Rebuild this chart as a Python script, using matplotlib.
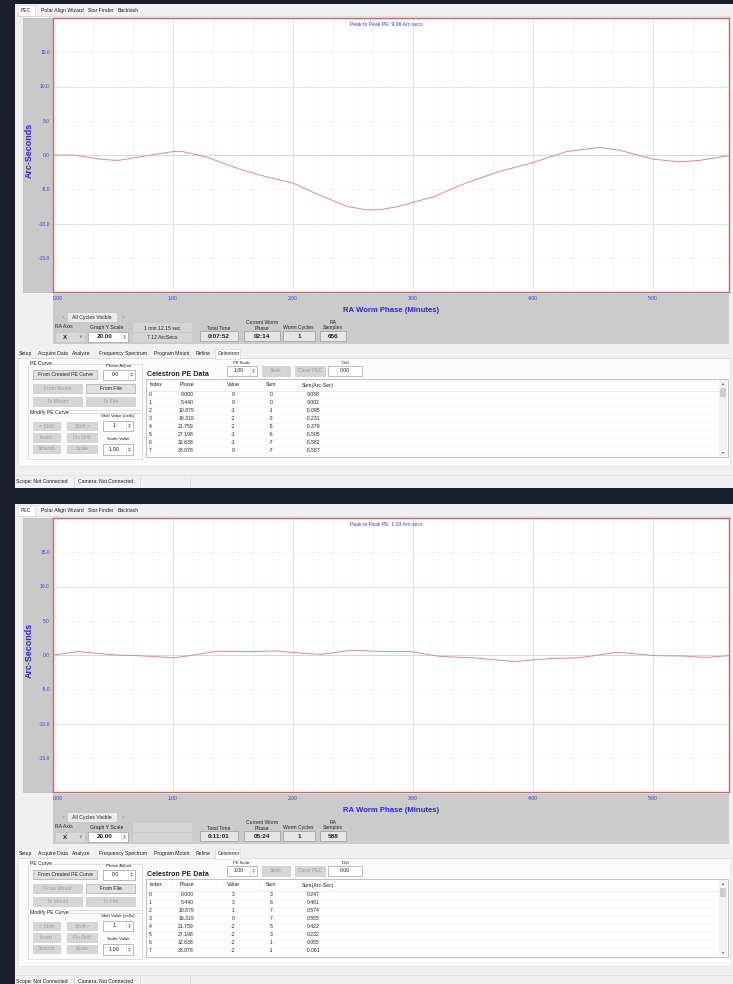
import numpy as np
import matplotlib
matplotlib.use('Agg')
import matplotlib.pyplot as plt
from matplotlib.patches import Rectangle, Polygon

plt.rcParams['font.family'] = ['Liberation Sans Narrow', 'Liberation Sans', 'DejaVu Sans']

# ---------------- data ----------------
minutes_top = [0, 0.17, 0.39, 0.54, 0.75, 1.0, 1.08, 1.28, 1.56, 1.78, 2.0, 2.2, 2.45, 2.61,
               2.72, 2.88, 3.17, 3.44, 3.72, 4.0, 4.28, 4.55, 4.72, 5.0, 5.22, 5.38, 5.63]
arcsec_top = [0.0, 0.0, -0.6, -0.8, -0.2, 0.5, 0.5, -0.3, -2.1, -3.2, -4.1, -5.7, -7.5, -8.0,
              -8.0, -7.5, -6.1, -4.1, -2.4, -1.1, 0.5, 1.1, 0.7, -0.6, -1.0, -0.8, -0.1]

minutes_bot = [0, 0.21, 0.52, 0.71, 1.01, 1.18, 1.36, 1.69, 1.85, 2.12, 2.24, 2.49, 2.75, 2.98,
               3.22, 3.53, 3.84, 4.16, 4.39, 4.70, 5.02, 5.25, 5.44, 5.63]
arcsec_bot = [0.0, 0.5, 0.0, -0.1, -0.4, 0.0, 0.55, 0.5, 0.6, 0.2, 0.1, 0.7, 0.5, 0.5,
              -0.2, -0.45, -0.95, -0.5, -0.4, 0.4, -0.1, -0.15, -0.35, -0.1]

minute_ticks = [0, 1, 2, 3, 4, 5]
minute_labels = ['0:00', '1:00', '2:00', '3:00', '4:00', '5:00']
arcsec_ticks = [15, 10, 5, 0, -5, -10, -15]
arcsec_labels = ['15.0', '10.0', '5.0', '0.0', '-5.0', '-10.0', '-15.0']

pp_text = ['Peak to Peak PE: 9.06 Arc-secs', 'Peak to Peak PE: 1.03 Arc-secs']
period_text = [('1 min 12.15 sec', '7.12 ArcSecs'), ('', '')]
total_time = ['0:07:52', '0:11:01']
worm_phase = ['02:14', '05:24']
worm_cycles = ['1', '1']
ra_samples = ['656', '588']

table_index = [0, 1, 2, 3, 4, 5, 6, 7]
table_phase = ['0.000', '5.440', '10.879', '16.319', '21.759', '27.198', '32.638', '38.078']
values_top = [0, 0, -1, -2, -2, -1, -1, 0]
sums_top = [0, 0, -1, -3, -5, -6, -7, -7]
arcsum_top = ['0.038', '0.002', '-0.095', '-0.231', '-0.379', '-0.505', '-0.582', '-0.587']
values_bot = [3, 3, 1, 0, -2, -2, -2, -2]
sums_bot = [3, 6, 7, 7, 5, 3, 1, -1]
arcsum_bot = ['0.247', '0.461', '0.574', '0.555', '0.422', '0.232', '0.055', '-0.061']

# ---------------- figure ----------------
W, H = 733, 984
fig = plt.figure(figsize=(W / 100, H / 100), dpi=100)
fig.patch.set_facecolor('#1b1f29')
bg = fig.add_axes([0, 0, 1, 1], zorder=0)
bg.set_xlim(0, W)
bg.set_ylim(H, 0)
bg.axis('off')

BLUE = '#2b2bd0'
TXT = '#222222'
DIS = '#9c9c9c'
FS = 3.7


def R(x0, y0, x1, y1, fc='none', ec='none', lw=0.5, z=1):
    bg.add_patch(Rectangle((x0, y0), x1 - x0, y1 - y0, facecolor=fc, edgecolor=ec,
                           linewidth=lw, zorder=z))


def T(x, y, s, size=FS, color=TXT, ha='left', va='center', weight='normal', **kw):
    bg.text(x, y, s, fontsize=size, color=color, ha=ha, va=va, fontweight=weight,
            zorder=6, **kw)


def L(xs, ys, color='#c8c8c8', lw=0.5, z=2):
    bg.plot(xs, ys, color=color, lw=lw, zorder=z, solid_capstyle='butt')


def button(x0, y0, x1, y1, label, enabled=True):
    R(x0, y0, x1, y1, fc='#e1e1e1' if enabled else '#d6d6d6',
      ec='#a9a9a9' if enabled else '#cbcbcb', lw=0.5, z=3)
    T((x0 + x1) / 2, (y0 + y1) / 2, label, ha='center', color=TXT if enabled else DIS)


def arrows(cx, cy, color='#606060', s=1.4):
    bg.add_patch(Polygon([[cx - s, cy - 0.6], [cx + s, cy - 0.6], [cx, cy - 0.6 - s]],
                         closed=True, fc=color, ec='none', zorder=5))
    bg.add_patch(Polygon([[cx - s, cy + 0.6], [cx + s, cy + 0.6], [cx, cy + 0.6 + s]],
                         closed=True, fc=color, ec='none', zorder=5))


def spin(x0, y0, x1, y1, value, bold=False, size=FS):
    R(x0, y0, x1, y1, fc='white', ec='#9f9f9f', lw=0.5, z=3)
    sx = x1 - 7
    L([sx, sx], [y0, y1], color='#cfcfcf', lw=0.4, z=4)
    T((x0 + sx) / 2, (y0 + y1) / 2, value, ha='center', weight='bold' if bold else 'normal',
      size=size)
    arrows((sx + x1) / 2, (y0 + y1) / 2)


def panel(k, oy, xs, ys, values, sums, arcsum):
    # window
    R(15, oy + 4, W + 2, oy + 488, fc='#f0f0f0', z=0.5)
    # top tab strip
    R(18, oy + 5, 35, oy + 16, fc='white', ec='#d0d0d0', lw=0.4, z=1)
    L([17, 731], [oy + 16, oy + 16], color='#d6d6d6', lw=0.4)
    T(21, oy + 10.5, 'PEC')
    T(41, oy + 10.5, 'Polar Align Wizard')
    T(88, oy + 10.5, 'Star Finder')
    T(118, oy + 10.5, 'Backlash')
    # gray column and band
    R(23, oy + 18, 53, oy + 292, fc='#c9c9c9', ec='#b0b0b0', lw=0.4, z=1)
    R(53, oy + 294, 729, oy + 344, fc='#cbcbcb', z=1)
    bg.text(29, oy + 150, 'Arc-Seconds', rotation=90, fontsize=6.4, color=BLUE,
            fontweight='bold', ha='center', va='center', zorder=6)
    T(391, oy + 311, 'RA Worm Phase (Minutes)', size=5.6, color=BLUE, weight='bold',
      ha='center')

    # plot axes
    ax = fig.add_axes([53 / W, 1 - (oy + 292) / H, 676 / W, 274 / H], zorder=2)
    ax.set_facecolor('white')
    ax.set_xlim(0, 5.633)
    ax.set_ylim(-20, 20)
    ax.set_xticks(minute_ticks)
    ax.set_xticklabels(minute_labels)
    ax.set_xticks(np.arange(0, 5.633, 1 / 6), minor=True)
    ax.set_yticks(arcsec_ticks)
    ax.set_yticklabels(arcsec_labels)
    ax.tick_params(which='both', length=0, labelsize=3.6, labelcolor='#3a3ad8')
    ax.tick_params(axis='y', pad=2.2)
    ax.tick_params(axis='x', pad=3.0)
    ax.get_xticklabels()[0].set_ha('left')
    ax.grid(which='minor', axis='x', color='#f3f3f3', lw=0.6)
    ax.grid(which='major', axis='x', color='#e0e0e0', lw=0.6)
    for v in (15, 5, -5, -15):
        ax.axhline(v, color='#f4f4f4', lw=0.6, zorder=0.5)
    for v in (10, -10):
        ax.axhline(v, color='#d6eeda', lw=0.7, zorder=0.6)
    ax.axhline(0, color='#d0dcd0', lw=0.7, zorder=0.6)
    ax.set_axisbelow(True)
    ax.plot(xs, ys, color='#d88c90', lw=0.7, zorder=3)
    for s in ax.spines.values():
        s.set_color('#c46a6a')
        s.set_linewidth(1.0)
    ax.text(350, oy + 24, pp_text[k], transform=bg.transData, fontsize=3.7, color='#3a3ad8',
            ha='left', va='center', zorder=6)

    # controls in band
    T(62, oy + 317, '<', color='#8a8a8a')
    R(67, oy + 312, 117, oy + 322, fc='#ececec', ec='#b8b8b8', lw=0.4, z=2)
    T(92, oy + 317, 'All Cycles Visible', ha='center')
    T(122, oy + 317, '>', color='#8a8a8a')
    T(55, oy + 327, 'RA Axis')
    T(90, oy + 327, 'Graph Y Scale')
    R(55, oy + 332, 85, oy + 342, fc='#d9d9d9', ec='#c2c2c2', lw=0.4, z=2)
    T(63, oy + 337.5, 'X', size=4.5, weight='bold')
    T(78, oy + 337, '\u2228', size=3.6, color='#606060')
    spin(88, oy + 332, 128, oy + 342, '20.00', bold=True, size=4.6)
    R(133, oy + 323, 192, oy + 332, fc='#d6d6d6', z=2)
    R(133, oy + 333, 192, oy + 342, fc='#d6d6d6', z=2)
    T(162, oy + 328, period_text[k][0], ha='center')
    T(162, oy + 337.5, period_text[k][1], ha='center')
    # info boxes
    T(219, oy + 328, 'Total Time', ha='center')
    R(200, oy + 331, 238, oy + 341, fc='#e6e6e6', ec='#9a9a9a', lw=0.5, z=2)
    T(219, oy + 336, total_time[k], ha='center', weight='bold', size=4.6)
    T(262, oy + 322, 'Current Worm', ha='center')
    T(262, oy + 328, 'Phase', ha='center')
    R(244, oy + 331, 280, oy + 341, fc='#e6e6e6', ec='#9a9a9a', lw=0.5, z=2)
    T(262, oy + 336, worm_phase[k], ha='center', weight='bold', size=4.6)
    T(298, oy + 328, 'Worm Cycles', ha='center')
    R(283, oy + 331, 315, oy + 341, fc='#e6e6e6', ec='#9a9a9a', lw=0.5, z=2)
    T(299, oy + 336, worm_cycles[k], ha='center', weight='bold', size=4.6)
    T(333, oy + 322, 'RA', ha='center')
    T(333, oy + 328, 'Samples', ha='center')
    R(320, oy + 331, 346, oy + 341, fc='#e6e6e6', ec='#9a9a9a', lw=0.5, z=2)
    T(333, oy + 336, ra_samples[k], ha='center', weight='bold', size=4.6)

    # lower tab row
    L([17, 731], [oy + 358, oy + 358], color='#d6d6d6', lw=0.4)
    R(215, oy + 349, 240, oy + 358.5, fc='white', ec='#d0d0d0', lw=0.4, z=2)
    for xx, name in [(19, 'Setup'), (38, 'Acquire Data'), (72, 'Analyze'),
                     (99, 'Frequency Spectrum'), (154, 'Program Mount'),
                     (196, 'Refine'), (218, 'Celestron')]:
        T(xx, oy + 353.5, name)
    R(18, oy + 358, 730, oy + 466, fc='#fbfbfb', ec='#dedede', lw=0.4, z=1)

    # PE Curve group
    R(28, oy + 364, 142, oy + 410, ec='#d2d2d2', lw=0.5, z=2)
    R(29, oy + 361, 52, oy + 366, fc='#fbfbfb', z=2.5)
    T(30, oy + 363.5, 'PE Curve')
    T(119, oy + 366, 'Phase Adjust', ha='center', size=3.2)
    button(33, oy + 370, 97, oy + 379, 'From Created PE Curve')
    spin(103, oy + 369.5, 135, oy + 379.5, '0.0')
    button(33, oy + 384, 82, oy + 393, 'From Mount', False)
    button(86, oy + 384, 135, oy + 393, 'From File')
    button(33, oy + 397, 82, oy + 406, 'To Mount', False)
    button(86, oy + 397, 135, oy + 406, 'To File', False)
    # Modify group
    R(28, oy + 413, 142, oy + 459, ec='#d2d2d2', lw=0.5, z=2)
    R(29, oy + 410, 69, oy + 415, fc='#fbfbfb', z=2.5)
    T(30, oy + 412.5, 'Modify PE Curve')
    T(118, oy + 415.5, 'Shift Value (cells)', ha='center', size=3.2)
    button(33, oy + 422, 60, oy + 430, '< Shift', False)
    button(67, oy + 422, 97, oy + 430, 'Shift >', False)
    spin(103, oy + 420.5, 133, oy + 431, '1', size=4.3)
    button(33, oy + 433, 60, oy + 442, 'Invert', False)
    button(67, oy + 433, 97, oy + 442, 'Fix Drift', False)
    T(118, oy + 438.5, 'Scale Value', ha='center', size=3.2)
    button(33, oy + 445, 60, oy + 453, 'Smooth', False)
    button(67, oy + 445, 97, oy + 453, 'Scale', False)
    spin(103, oy + 444, 133, oy + 455, '1.00', size=4.0)

    # Celestron PE data header
    T(147, oy + 375, 'Celestron PE Data', size=5.1, weight='bold')
    T(241, oy + 362.5, 'PE Scale', ha='center', size=3.0)
    spin(227, oy + 366, 257, oy + 375.5, '1.00')
    button(262, oy + 366, 290, oy + 376, 'Seek', False)
    button(295, oy + 366, 325, oy + 376, 'Clear PEC', False)
    T(345, oy + 362.5, 'Drift', ha='center', size=3.0)
    R(328, oy + 366, 362, oy + 376, fc='white', ec='#a5a5a5', lw=0.5, z=3)
    T(345, oy + 371, '0.00', ha='center')

    # table
    R(146, oy + 379, 728, oy + 457, fc='white', ec='#a8a8a8', lw=0.5, z=2)
    L([147, 719], [oy + 390.5, oy + 390.5], color='#e2e2e2', lw=0.5, z=3)
    for xx in (170, 222, 260, 298, 335):
        L([xx, xx], [oy + 380, oy + 390], color='#ededed', lw=0.4, z=3)
    T(150, oy + 385, 'Index')
    T(180, oy + 385, 'Phase')
    T(227, oy + 385, 'Value')
    T(266, oy + 385, 'Sum')
    T(302, oy + 385, 'Sum(Arc-Sec)')
    for i in range(len(table_index)):
        yy = oy + 395 + i * 7.95
        L([147, 719], [yy + 4, yy + 4], color='#f2f2f2', lw=0.4, z=3)
        T(149, yy, str(table_index[i]))
        T(194, yy, table_phase[i], ha='right')
        T(235, yy, str(values[i]), ha='right')
        T(273, yy, str(sums[i]), ha='right')
        T(320, yy, arcsum[i], ha='right')
    # scrollbar
    R(719, oy + 380, 727, oy + 456, fc='#f2f2f2', z=3)
    R(720, oy + 388, 726, oy + 397, fc='#cdcdcd', z=4)
    bg.add_patch(Polygon([[721.5, oy + 385], [724.5, oy + 385], [723, oy + 383]], closed=True,
                         fc='#7a7a7a', ec='none', zorder=5))
    bg.add_patch(Polygon([[721.5, oy + 452], [724.5, oy + 452], [723, oy + 454]], closed=True,
                         fc='#7a7a7a', ec='none', zorder=5))

    # status bar
    L([15, W], [oy + 474.5, oy + 474.5], color='#dcdcdc', lw=0.5)
    T(16, oy + 481.5, 'Scope: Not Connected')
    T(78, oy + 481.5, 'Camera: Not Connected')
    for xx in (74, 140, 190):
        L([xx, xx], [oy + 476, oy + 487], color='#d0d0d0', lw=0.5)


panel(0, 0, minutes_top, arcsec_top, values_top, sums_top, arcsum_top)
panel(1, 500, minutes_bot, arcsec_bot, values_bot, sums_bot, arcsum_bot)

fig.savefig('out.png', dpi=100, facecolor=fig.get_facecolor())
